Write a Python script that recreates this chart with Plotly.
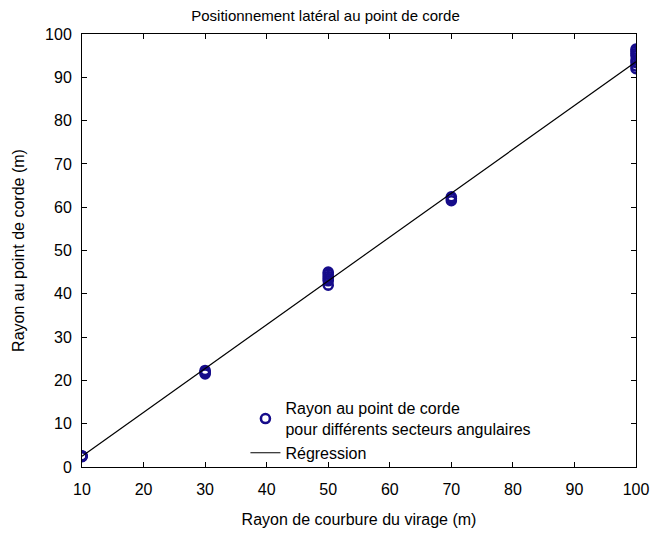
import plotly.graph_objects as go

# Data
rayon_virage = [10, 10, 10, 10,
                30, 30, 30, 30,
                50, 50, 50, 50, 50, 50,
                70, 70, 70,
                100, 100, 100, 100, 100, 100, 100, 100]
rayon_corde = [2.4, 2.5, 2.6, 2.5,
               21.5, 21.8, 22.0, 22.3,
               42.0, 43.0, 43.5, 44.0, 44.5, 45.0,
               61.5, 62.0, 62.4,
               92.0, 92.6, 93.4, 94.0, 95.0, 95.5, 96.0, 96.5]
reg_x = [10, 100]
reg_y = [2.5, 93.6]

x_ticks = [10, 20, 30, 40, 50, 60, 70, 80, 90, 100]
y_ticks = [0, 10, 20, 30, 40, 50, 60, 70, 80, 90, 100]

navy = "#160c8a"
font = "Liberation Sans, Arial, sans-serif"

fig = go.Figure()
fig.add_trace(go.Scatter(
    x=rayon_virage, y=rayon_corde, mode="markers",
    name="Rayon au point de corde<br>pour différents secteurs angulaires",
    marker=dict(symbol="circle-open", size=9, color=navy, line=dict(width=2.6, color=navy)),
))
fig.add_trace(go.Scatter(
    x=reg_x, y=reg_y, mode="lines", name="Régression",
    line=dict(color="black", width=1.2),
))

axis_common = dict(
    showgrid=False, zeroline=False, showline=True, linecolor="black", linewidth=1,
    mirror="allticks", ticks="inside", ticklen=5, tickcolor="black",
    tickfont=dict(family=font, size=16, color="black"), automargin=False,
)
fig.update_xaxes(range=[10, 100], tickvals=x_ticks, ticklabelstandoff=8,
                 title=dict(text="Rayon de courbure du virage (m)", font=dict(family=font, size=16, color="black"), standoff=16),
                 **axis_common)
fig.update_yaxes(range=[0, 100], tickvals=y_ticks, ticklabelstandoff=6,
                 title=dict(text="Rayon au point de corde (m)", font=dict(family=font, size=16, color="black"), standoff=16),
                 **axis_common)

fig.update_layout(
    width=651, height=534,
    margin=dict(l=82, r=15, t=34, b=67),
    paper_bgcolor="white", plot_bgcolor="white",
    title=dict(text="Positionnement latéral au point de corde", x=0.5, xanchor="center",
               y=1 - 10 / 534, yanchor="top",
               font=dict(family=font, size=15, color="black")),
    legend=dict(x=0.295, y=0.175, xanchor="left", yanchor="top",
                bgcolor="rgba(0,0,0,0)", font=dict(family=font, size=16, color="black"),
                itemwidth=30, tracegroupgap=0),
    showlegend=True,
)

fig.write_html("out.html")
